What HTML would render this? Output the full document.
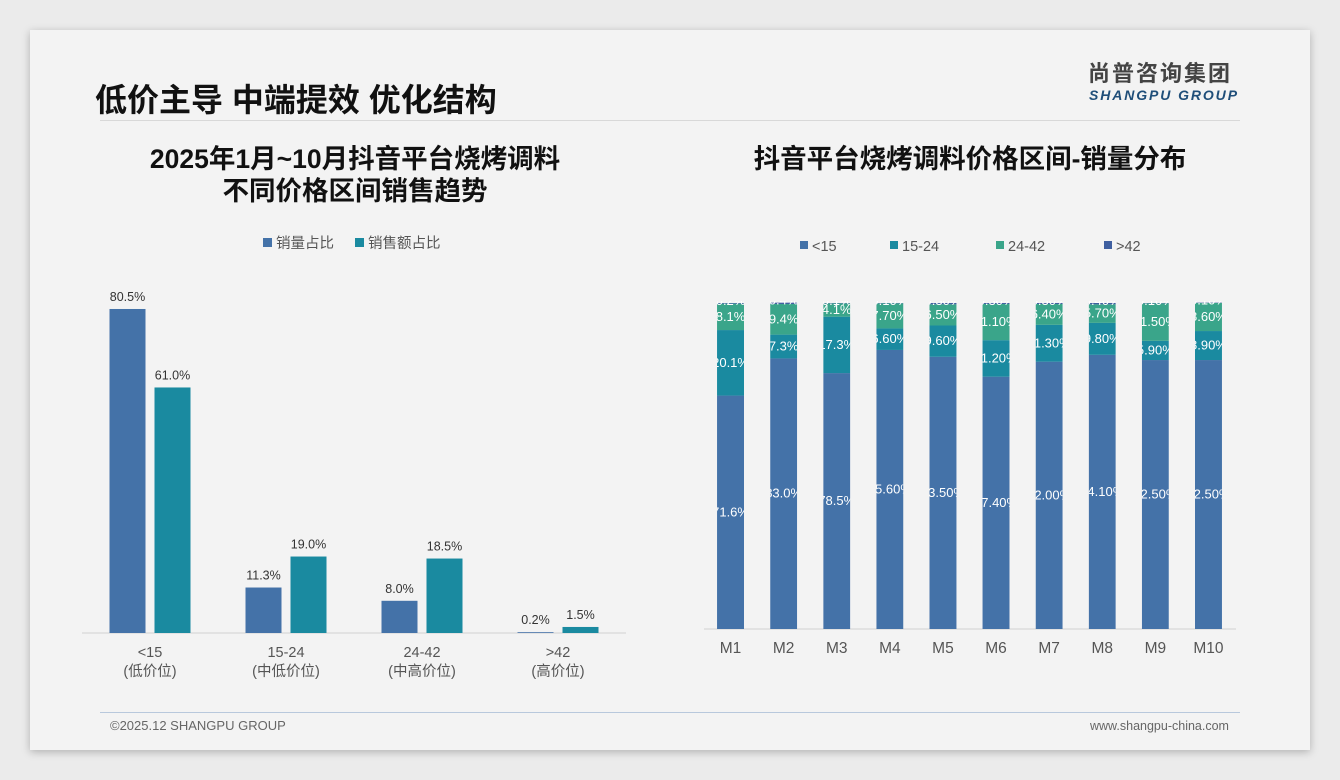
<!DOCTYPE html>
<html><head><meta charset="utf-8">
<style>
html,body{margin:0;padding:0;width:1340px;height:780px;overflow:hidden;background:#ebebeb;font-family:"Liberation Sans","Noto Sans CJK SC",sans-serif;}
#card{position:absolute;left:30px;top:30px;width:1280px;height:720px;background:#f3f3f3;box-shadow:0 2px 8px rgba(0,0,0,.25);}
.t{position:absolute;white-space:nowrap;}
</style></head><body>
<div id="card"></div>
<div class="t" style="left:95px;top:75px;font-size:32px;font-weight:bold;color:#111;">低价主导 中端提效 优化结构</div>
<div class="t" style="left:1088px;top:61px;font-size:22px;line-height:26px;font-weight:bold;color:#444;letter-spacing:2px;">尚普咨询集团</div>
<div class="t" style="left:1089px;top:87px;font-size:14px;line-height:17px;font-weight:bold;font-style:italic;color:#1f4e79;letter-spacing:1.9px;">SHANGPU GROUP</div>
<div style="position:absolute;left:100px;top:120px;width:1140px;height:1px;background:#d8d8d8;"></div>
<div class="t" style="left:100px;top:143px;width:510px;text-align:center;font-size:26.5px;font-weight:bold;line-height:32px;color:#111;">2025年1月~10月抖音平台烧烤调料<br>不同价格区间销售趋势</div>
<div class="t" style="left:700px;top:143px;width:540px;text-align:center;font-size:26.5px;font-weight:bold;line-height:32px;color:#111;">抖音平台烧烤调料价格区间-销量分布</div>
<div style="position:absolute;left:100px;top:712px;width:1140px;height:1px;background:#b8c8dc;"></div>
<div class="t" style="left:110px;top:718px;font-size:13px;color:#666;">©2025.12 SHANGPU GROUP</div>
<div class="t" style="left:1090px;top:719px;font-size:12.5px;color:#666;">www.shangpu-china.com</div>
<svg id="left" width="1340" height="780" style="position:absolute;left:0;top:0"></svg>
<svg id="right" width="1340" height="780" style="position:absolute;left:0;top:0"></svg>
<script>
const NS="http://www.w3.org/2000/svg";
const lCats=["<15","15-24","24-42",">42"];
const lSub=["(低价位)","(中低价位)","(中高价位)","(高价位)"];
const lVol=[80.5,11.3,8.0,0.2];
const lAmt=[61.0,19.0,18.5,1.5];
const lSeries=["销量占比","销售额占比"];
const rCats=["M1","M2","M3","M4","M5","M6","M7","M8","M9","M10"];
const rS1=[71.6,83.0,78.5,85.6,83.5,77.4,82.0,84.1,82.5,82.5];
const rS2=[20.1,7.3,17.3,6.6,9.6,11.2,11.3,9.8,5.9,8.9];
const rS3=[8.1,9.4,4.1,7.7,6.5,11.1,6.4,5.7,11.5,8.6];
const rS4=[0.2,0.4,0.1,0.1,0.4,0.3,0.3,0.4,0.1,0.1];
const rLbl1=["71.6%","83.0%","78.5%","85.60%","83.50%","77.40%","82.00%","84.10%","82.50%","82.50%"];
const rLbl2=["20.1%","7.3%","17.3%","6.60%","9.60%","11.20%","11.30%","9.80%","5.90%","8.90%"];
const rLbl3=["8.1%","9.4%","4.1%","7.70%","6.50%","11.10%","6.40%","5.70%","11.50%","8.60%"];
const rLbl4=["0.2%","0.4%","0.1%","0.10%","0.30%","0.30%","0.30%","0.40%","0.10%","0.10%"];
const rSeries=["<15","15-24","24-42",">42"];
const C=["#4472a8","#1a8aa0","#3aa58a","#3f5fa0"];
function mk(p,tag,a,txt){const e=document.createElementNS(NS,tag);for(const k in a)e.setAttribute(k,a[k]);if(txt!==undefined)e.textContent=txt;p.appendChild(e);return e;}
const L=document.getElementById('left');
const lBase=633,lK=4.025,lX0=82,lGW=136;
const lx=i=>lX0+lGW*(i+0.5);
const ly=v=>lBase-v*lK;
let ax=mk(L,'line',{x1:82,x2:626,y1:lBase,y2:lBase,stroke:'#d0d0d0'});

lCats.forEach((c,i)=>{
 [[lVol,C[0],-22.5],[lAmt,C[1],22.5]].forEach(([arr,col,off],s)=>{
  const v=arr[i],cx=lx(i)+off;
  const r=mk(L,'rect',{x:cx-18,y:ly(v),width:36,height:v*lK,fill:col});
  
  
  const t=mk(L,'text',{x:cx,y:ly(v)-8,'text-anchor':'middle','font-size':12.5,fill:'#333'},v.toFixed(1)+'%');
  
 });
 const t1=mk(L,'text',{x:lx(i),y:657,'text-anchor':'middle','font-size':14.5,fill:'#555'},c);
 
 const t2=mk(L,'text',{x:lx(i),y:676,'text-anchor':'middle','font-size':14.5,fill:'#555'},lSub[i]);
 
});
lSeries.forEach((s,i)=>{
 const x=[263,355][i];
 const r=mk(L,'rect',{x:x,y:238,width:9,height:9,fill:C[i]});
 
 const t=mk(L,'text',{x:x+13,y:248,'font-size':14.5,fill:'#555'},s);
 
});
const R=document.getElementById('right');
const rBase=629,rH=326,rX0=704,rGW=53.1,rBW=27;
const rx=i=>rX0+rGW*(i+0.5);
const rh=v=>v*rH/100;
let ax2=mk(R,'line',{x1:704,x2:1236,y1:rBase,y2:rBase,stroke:'#d0d0d0'});

const defs=mk(R,'defs',{});
const rData=[rS1,rS2,rS3,rS4],rLbls=[rLbl1,rLbl2,rLbl3,rLbl4];
rCats.forEach((c,i)=>{
 const cp=mk(defs,'clipPath',{id:'cp'+i});
 mk(cp,'rect',{x:rx(i)-rBW/2,y:rBase-rH-2,width:rBW,height:rH+2});
 let y=rBase;
 const g=mk(R,'g',{'clip-path':'url(#cp'+i+')'});
 rData.forEach((arr,s)=>{
  const h=rh(arr[i]);y-=h;
  const r=mk(g,'rect',{x:rx(i)-rBW/2,y:y,width:rBW,height:h,fill:C[s]});
  
  
 });
 y=rBase;
 rData.forEach((arr,s)=>{
  const h=rh(arr[i]);y-=h;
  let ty=y+h/2+4;if(s==3)ty=y+2;
  const t=mk(g,'text',{x:rx(i),y:ty,'text-anchor':'middle','font-size':13,fill:'#fff'},rLbls[s][i]);
  
 });
 const tl=mk(R,'text',{x:rx(i),y:653,'text-anchor':'middle','font-size':15.5,fill:'#555'},c);
 
});
rSeries.forEach((s,i)=>{
 const x=[800,890,996,1104][i];
 const r=mk(R,'rect',{x:x,y:241,width:8,height:8,fill:C[i]});
 
 const t=mk(R,'text',{x:x+12,y:251,'font-size':14.5,fill:'#555'},s);
 
});
</script>
</body></html>
